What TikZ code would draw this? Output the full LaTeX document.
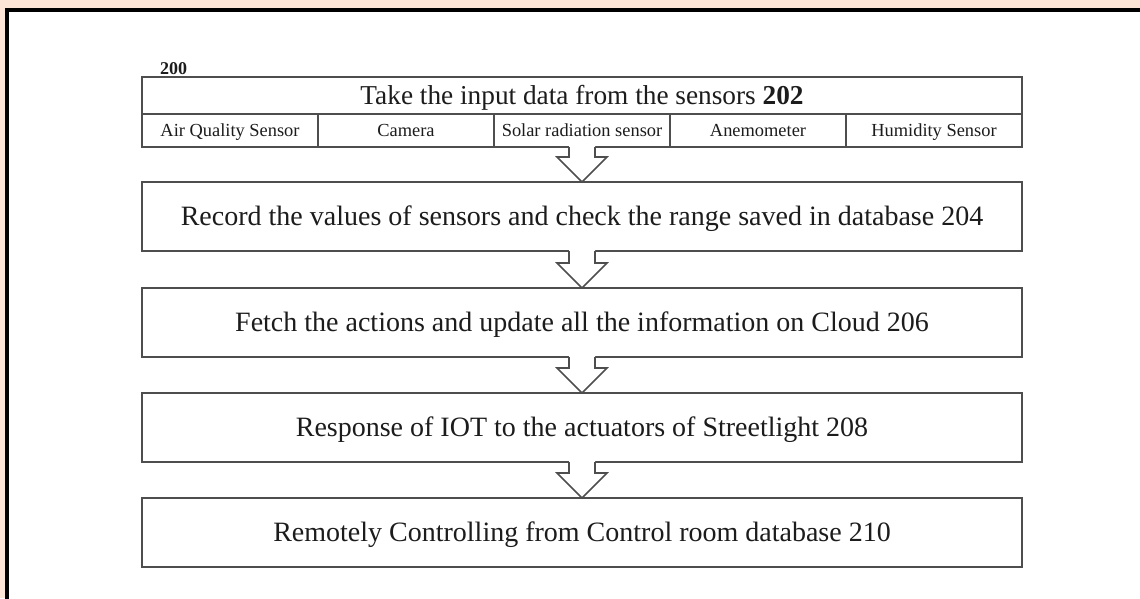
\documentclass[tikz,border=0pt]{standalone}
\usepackage{fontspec}
\setmainfont{Liberation Serif}
\usetikzlibrary{calc}

\definecolor{peach}{RGB}{252,228,214}
\definecolor{edge}{RGB}{78,78,78}
\definecolor{ink}{RGB}{28,28,28}

\tikzset{
  stepframe/.style={draw=edge, line width=1.6pt, fill=white, inner sep=0pt,
    outer sep=0pt, anchor=north west, minimum width=880pt, text=ink,
    text height=18.5pt, text depth=0pt,
    font=\fontsize{28}{32}\selectfont},
  titlerow/.style={stepframe, minimum height=37pt, text height=18pt,
    font=\fontsize{27.3}{32}\selectfont},
  flowbox/.style={stepframe, minimum height=69pt},
  sensorcell/.style={stepframe, minimum width=176pt, minimum height=33pt,
    text height=12pt, font=\fontsize{18.4}{21}\selectfont},
  arrowline/.style={draw=edge, line width=1.6pt, line join=miter},
  figlabel/.style={text=ink, inner sep=0pt, font=\fontsize{18}{20}\selectfont\bfseries}
}

% hollow block arrow hanging from the bottom of #1 down to the top of #2
\newcommand\hollowarrow[2]{%
  \fill[white] let \p1=(#1.south), \p2=(#2.north) in
    (\x1-13pt,\y1+1pt) -- (\x1-13pt,\y2+25pt) -- (\x1-25pt,\y2+25pt)
    -- (\x1,\y2) -- (\x1+25pt,\y2+25pt) -- (\x1+13pt,\y2+25pt)
    -- (\x1+13pt,\y1+1pt) -- cycle;
  \draw[arrowline] let \p1=(#1.south), \p2=(#2.north) in
    (\x1-13pt,\y1) -- (\x1-13pt,\y2+25pt) -- (\x1-25pt,\y2+25pt)
    -- (\x1,\y2) -- (\x1+25pt,\y2+25pt) -- (\x1+13pt,\y2+25pt)
    -- (\x1+13pt,\y1);
}

\begin{document}
\begin{tikzpicture}[x=1pt, y=-1pt]
  \useasboundingbox (0,0) rectangle (1140,598);
  \fill[white] (0,0) rectangle (1140,598);

  % page frame
  \fill[peach] (0,0) rectangle (1140,10);
  \fill[peach] (0,0) rectangle (7,598);
  \draw[line width=4pt, black] (7,600) -- (7,10) -- (1142,10);

  % figure number
  \node[figlabel] (fig) at (173.5,68.5) {200};

  % input stage with its sensors
  \node[titlerow] (input) at (142,77) {Take the input data from the sensors \textbf{202}};
  \node[sensorcell] (s1) at (142,114) {Air Quality Sensor};
  \node[sensorcell] (s2) at (318,114) {Camera};
  \node[sensorcell] (s3) at (494,114) {Solar radiation sensor};
  \node[sensorcell] (s4) at (670,114) {Anemometer};
  \node[sensorcell] (s5) at (846,114) {Humidity Sensor};

  % processing steps
  \node[flowbox] (b204) at (142,182) {Record the values of sensors and check the range saved in database 204};
  \node[flowbox] (b206) at (142,288) {Fetch the actions and update all the information on Cloud 206};
  \node[flowbox] (b208) at (142,393) {Response of IOT to the actuators of Streetlight 208};
  \node[flowbox] (b210) at (142,498) {Remotely Controlling from Control room database 210};

  % flow arrows
  \hollowarrow{s3}{b204}
  \hollowarrow{b204}{b206}
  \hollowarrow{b206}{b208}
  \hollowarrow{b208}{b210}
\end{tikzpicture}
\end{document}
